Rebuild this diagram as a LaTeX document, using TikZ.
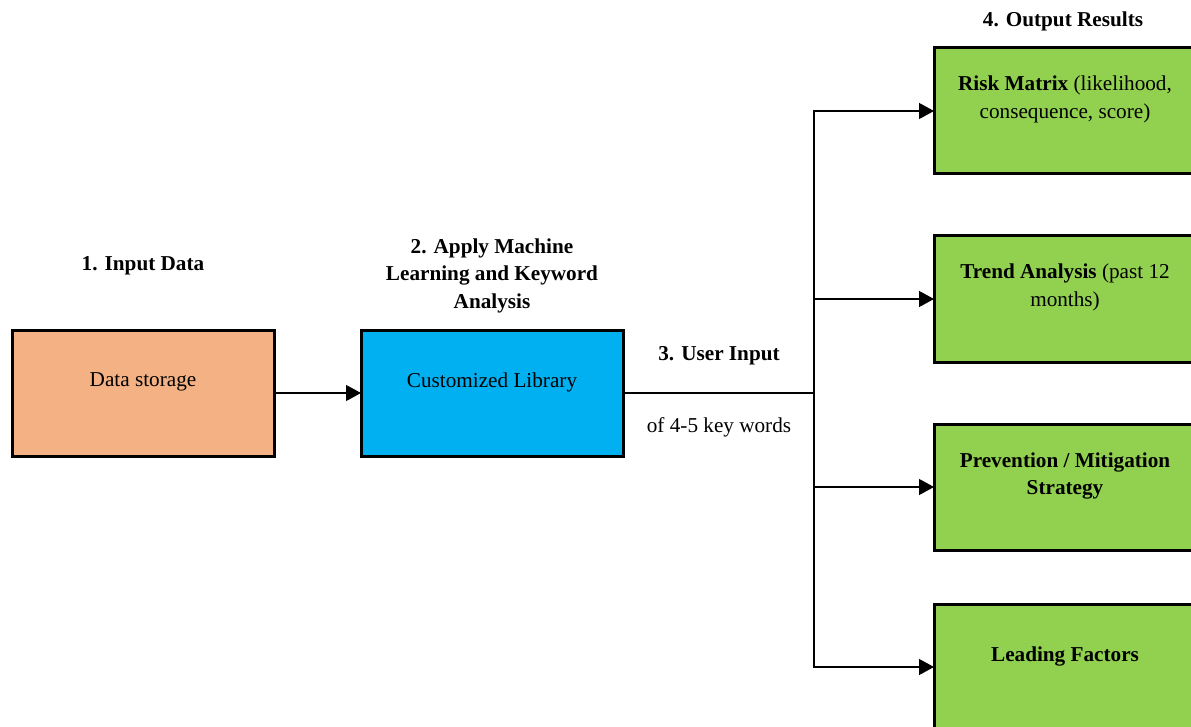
\documentclass[tikz,border=0pt]{standalone}
\usepackage{fontspec}
\setmainfont{Liberation Serif}
\usetikzlibrary{arrows.meta}
\definecolor{orangebox}{HTML}{F4B183}
\definecolor{bluebox}{HTML}{00B0F0}
\definecolor{greenbox}{HTML}{92D050}
\tikzset{
  box/.style={draw=black, line width=3pt, minimum width=262pt, minimum height=126pt, inner sep=0pt, outer sep=0pt, anchor=north west},
  txt/.style={font=\fontsize{21.2}{27.5}\selectfont, align=center, inner sep=0pt},
  btxt/.style={txt, font=\fontsize{21.2}{27.5}\selectfont\bfseries},
  conn/.style={line width=1.2pt},
  arr/.style={conn, -{Triangle[length=15pt,width=16pt]}}
}
\begin{document}
\begin{tikzpicture}[x=1pt,y=-1pt]
\useasboundingbox (0,0) rectangle (1191,727);
\clip (0,0) rectangle (1191,727);
\fill[white] (0,0) rectangle (1191,727);
% boxes
\node[box, fill=orangebox] (ds) at (12,330) {};
\node[box, fill=bluebox] (lib) at (361,330) {};
\node[box, fill=greenbox] (risk) at (934,48) {};
\node[box, fill=greenbox] (trend) at (934,236) {};
\node[box, fill=greenbox] (prev) at (934,424) {};
\node[box, fill=greenbox] (lead) at (934,604) {};
% box texts
\node[txt] (dst) at (143,382) {Data storage};
\node[txt] (libt) at (492,382) {Customized Library};
\node[txt] (riskt) at (1065,99.5) {\textbf{Risk Matrix} (likelihood,\\consequence, score)};
\node[txt] (trendt) at (1065,287.5) {\textbf{Trend Analysis} (past 12\\months)};
\node[txt] (prevt) at (1065,476) {\textbf{Prevention / Mitigation}\\\textbf{Strategy}};
\node[txt] (leadt) at (1065,656) {\textbf{Leading Factors}};
% headings
\node[btxt] (h1) at (143,266) {1. Input Data};
\node[btxt] (h2) at (492,275.5) {2. Apply Machine\\Learning and Keyword\\Analysis};
\node[btxt] (h3) at (719,356) {3. User Input};
\node[txt] (h3b) at (719,427) {of 4-5 key words};
\node[btxt] (h4) at (1063,21) {4. Output Results};
% connectors
\coordinate (j) at (814,393);
\draw[arr] (ds.east) -- (lib.west);
\draw[conn] (lib.east) -- (j);
\draw[conn] (814,111) -- (814,667);
\draw[arr] (j) |- (risk.west);
\draw[arr] (j) |- (trend.west);
\draw[arr] (j) |- (prev.west);
\draw[arr] (j) |- (lead.west);
\end{tikzpicture}
\end{document}
